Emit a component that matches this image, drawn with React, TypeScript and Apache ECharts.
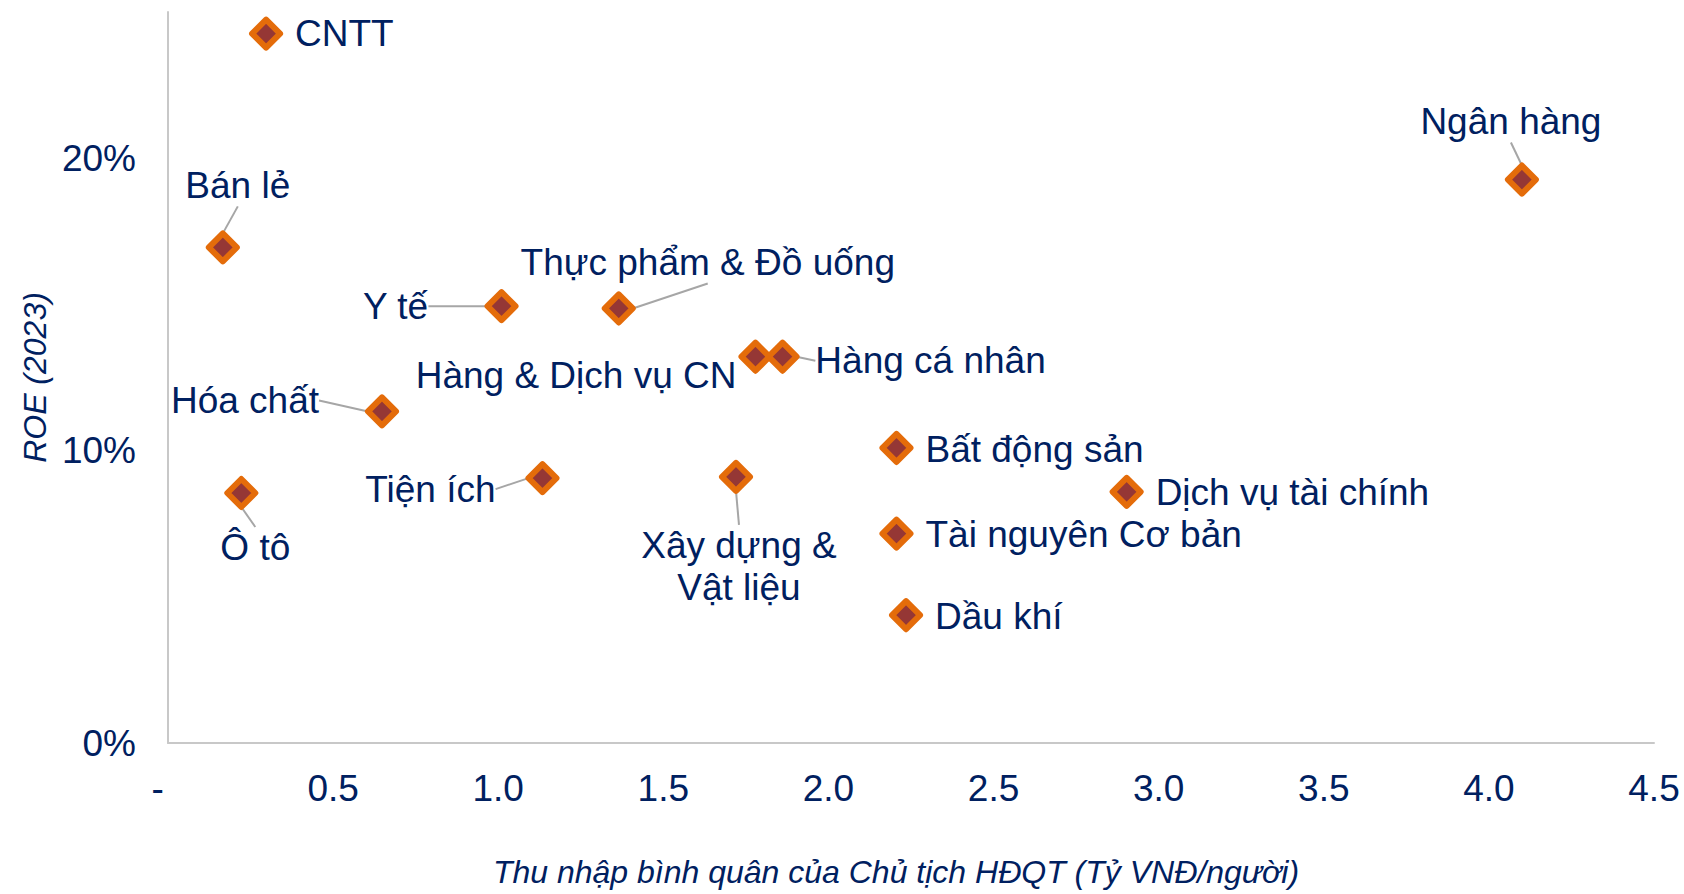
import React, { useEffect, useRef } from "react";
import * as echarts from "echarts";

const sectors = [
  "CNTT", "Bán lẻ", "Ngân hàng", "Y tế", "Thực phẩm & Đồ uống", "Hàng & Dịch vụ CN",
  "Hàng cá nhân", "Hóa chất", "Tiện ích", "Ô tô", "Xây dựng &\nVật liệu",
  "Bất động sản", "Dịch vụ tài chính", "Tài nguyên Cơ bản", "Dầu khí",
];
const income = [0.297, 0.166, 4.10, 1.01, 1.365, 1.779, 1.861, 0.648, 1.134, 0.222, 1.72, 2.206, 2.903, 2.206, 2.235];
const roe = [0.2426, 0.1695, 0.1927, 0.1494, 0.1486, 0.1321, 0.1321, 0.1134, 0.0906, 0.0855, 0.091, 0.1009, 0.0859, 0.0716, 0.0437];

const xTicks = [0, 0.5, 1.0, 1.5, 2.0, 2.5, 3.0, 3.5, 4.0, 4.5];
const yTicks = [0, 0.1, 0.2];

// label placement style per point: [position, dx, dy, showLeader]
const labelPlacement: [string, number, number, boolean][] = [
  ["right", 0, 0, false],
  ["inside", 15, -62, true],
  ["inside", -11, -58, true],
  ["inside", -106, 0, true],
  ["inside", 89, -46, true],
  ["left", 0, 19, false],
  ["inside", 148, 4, true],
  ["inside", -137, -11, true],
  ["inside", -112, 11, true],
  ["inside", 14, 55, true],
  ["inside", 3, 90, true],
  ["right", 0, 2, false],
  ["right", 0, 1, false],
  ["right", 0, 1, false],
  ["right", 0, 1, false],
];

const NAVY = "#002060";
const FONT = "'Liberation Sans', Arial, sans-serif";

export default function App() {
  const ref = useRef<HTMLDivElement>(null);
  useEffect(() => {
    if (!ref.current) return;
    const chart = echarts.init(ref.current, null, { renderer: "svg" });
    const data = sectors.map((name, i) => {
      const [pos, dx, dy, leader] = labelPlacement[i];
      return {
        name,
        value: [income[i], roe[i]],
        label: {
          position: pos,
          distance: pos === "left" ? 2 : 12,
          offset: [dx, dy],
          align: pos === "right" ? "left" : pos === "left" ? "right" : "center",
          verticalAlign: "middle",
        },
        labelLine: { show: leader },
      };
    });
    chart.setOption({
      animation: false,
      grid: { left: 168, right: 30, top: 12, bottom: 151 },
      xAxis: {
        type: "value",
        min: 0,
        max: 4.5,
        interval: 0.5,
        name: "Thu nhập bình quân của Chủ tịch HĐQT (Tỷ VNĐ/người)",
        nameLocation: "middle",
        nameGap: 113,
        nameTextStyle: { fontSize: 32, fontStyle: "italic", color: NAVY, fontFamily: FONT, padding: [0, 30, 0, 0] },
        axisLine: { show: true, lineStyle: { color: "#c8c8c8", width: 2 } },
        axisTick: { show: false },
        splitLine: { show: false },
        axisLabel: {
          fontSize: 37,
          color: NAVY,
          fontFamily: FONT,
          margin: 27,
          formatter: (v: number) => (v === 0 ? "-  " : xTicks.includes(v) ? v.toFixed(1) : ""),
        },
      },
      yAxis: {
        type: "value",
        min: 0,
        max: 0.25,
        interval: 0.1,
        name: "ROE (2023)",
        nameLocation: "middle",
        nameGap: 114,
        nameTextStyle: { fontSize: 32, fontStyle: "italic", color: NAVY, fontFamily: FONT },
        axisLine: { show: true, lineStyle: { color: "#c8c8c8", width: 2 } },
        axisTick: { show: false },
        splitLine: { show: false },
        axisLabel: {
          fontSize: 37,
          color: NAVY,
          fontFamily: FONT,
          margin: 32,
          showMaxLabel: false,
          formatter: (v: number) => {
            const hit = yTicks.find((t) => Math.abs(t - v) < 1e-9);
            return hit !== undefined ? Math.round(hit * 100) + "%" : "";
          },
        },
      },
      series: [
        {
          type: "scatter",
          symbol: "diamond",
          symbolSize: 28,
          itemStyle: {
            color: "#953735",
            borderColor: "#E46C0A",
            borderWidth: 6,
            borderJoin: "round",
            opacity: 1,
          },
          label: {
            show: true,
            formatter: (p: any) => p.name,
            fontSize: 37,
            color: NAVY,
            fontFamily: FONT,
            lineHeight: 42,
          },
          labelLine: { show: true, length2: 0, lineStyle: { color: "#a6a6a6", width: 2 } },
          emphasis: { disabled: true },
          data,
        },
      ],
    });
    return () => chart.dispose();
  }, []);
  return (
    <div
      ref={ref}
      style={{ position: "fixed", left: 0, top: 0, width: 1684, height: 894, background: "#fff" }}
    />
  );
}
